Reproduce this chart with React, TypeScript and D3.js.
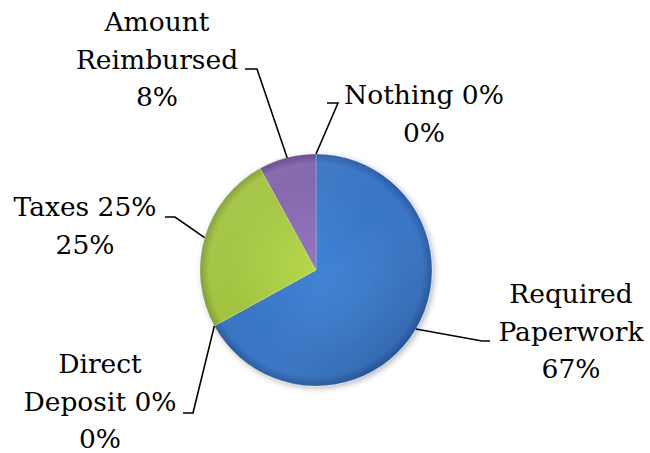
import React, { useEffect, useRef } from 'react';
import * as d3 from 'd3';

// Slice data, clockwise from 12 o'clock
const categories = ['Required Paperwork', 'Direct Deposit 0%', 'Taxes 25%', 'Amount Reimbursed', 'Nothing 0%'];
const values = [67, 0, 25, 8, 0];
const percentLabels = ['67%', '0%', '25%', '8%', '0%'];
// how each label wraps in the picture
const labelLines = [
  ['Required', 'Paperwork', '67%'],
  ['Direct', 'Deposit 0%', '0%'],
  ['Taxes 25%', '25%'],
  ['Amount', 'Reimbursed', '8%'],
  ['Nothing 0%', '0%'],
];

const colors = [
  { light: '#3f84d4', base: '#3874c4', dark: '#2a5aa2' },
  { light: '#e86a66', base: '#c0504d', dark: '#8c3331' },
  { light: '#b6d84c', base: '#a0c23c', dark: '#7d9c2a' },
  { light: '#9576c2', base: '#7f61aa', dark: '#5e4286' },
  { light: '#5cc3dc', base: '#4bacc6', dark: '#2f7d92' },
];

// label placement: elbow of the leader, end of the leader, text centre and first baseline
const labelLayout = [
  { elbow: [482, 341], end: [490, 341], tx: 571, ty: 303 },
  { elbow: [193, 413], end: [183, 413], tx: 100, ty: 373 },
  { elbow: [175, 217], end: [165, 217], tx: 85, ty: 216 },
  { elbow: [257, 69], end: [245, 69], tx: 157, ty: 31 },
  { elbow: [338, 103], end: [327, 103], tx: 424, ty: 104 },
];

const App: React.FC = () => {
  const ref = useRef<SVGSVGElement | null>(null);

  useEffect(() => {
    if (!ref.current) return;
    const svg = d3.select(ref.current);
    svg.selectAll('*').remove();

    const width = 650;
    const height = 453;
    const cx = 316;
    const cy = 270;
    const radius = 116;
    const lineH = 37.5;

    svg.attr('width', width).attr('height', height);

    const defs = svg.append('defs');
    const shadow = defs.append('filter').attr('id', 'pieShadow')
      .attr('x', '-20%').attr('y', '-20%').attr('width', '140%').attr('height', '140%');
    shadow.append('feGaussianBlur').attr('in', 'SourceAlpha').attr('stdDeviation', 3);
    shadow.append('feOffset').attr('dx', 2).attr('dy', 2).attr('result', 'off');
    shadow.append('feComponentTransfer').append('feFuncA').attr('type', 'linear').attr('slope', 0.3);
    const merge = shadow.append('feMerge');
    merge.append('feMergeNode');
    merge.append('feMergeNode').attr('in', 'SourceGraphic');

    // gradients are in the pie group's own space, centred on 0,0
    colors.forEach((c, i) => {
      const g = defs.append('radialGradient').attr('id', `grad${i}`)
        .attr('gradientUnits', 'userSpaceOnUse')
        .attr('cx', 0).attr('cy', 0).attr('r', radius);
      g.append('stop').attr('offset', '0%').attr('stop-color', c.light);
      g.append('stop').attr('offset', '75%').attr('stop-color', c.base);
      g.append('stop').attr('offset', '92%').attr('stop-color', c.base);
      g.append('stop').attr('offset', '100%').attr('stop-color', c.dark);
    });

    // soft light from the top left, shade to the bottom right
    const light = defs.append('linearGradient').attr('id', 'lightOverlay')
      .attr('gradientUnits', 'userSpaceOnUse')
      .attr('x1', -radius * 0.7).attr('y1', -radius * 0.7)
      .attr('x2', radius * 0.7).attr('y2', radius * 0.7);
    light.append('stop').attr('offset', '0%').attr('stop-color', '#fff').attr('stop-opacity', 0.08);
    light.append('stop').attr('offset', '50%').attr('stop-color', '#fff').attr('stop-opacity', 0);
    light.append('stop').attr('offset', '100%').attr('stop-color', '#000').attr('stop-opacity', 0.1);

    const pie = d3.pie<number>().sort(null).value(d => d);
    const arcs = pie(values);
    const arc = d3.arc<d3.PieArcDatum<number>>().innerRadius(0).outerRadius(radius);
    const drawn = arcs.filter(a => a.value > 0);

    const g = svg.append('g').attr('transform', `translate(${cx},${cy})`);
    const slices = g.append('g').attr('filter', 'url(#pieShadow)');
    slices.selectAll('path.slice')
      .data(drawn)
      .enter()
      .append('path')
      .attr('class', 'slice')
      .attr('d', arc)
      .attr('fill', d => `url(#grad${d.index})`)
      .attr('stroke', 'rgba(255,255,255,0.3)')
      .attr('stroke-width', 0.8);
    slices.selectAll('path.shade')
      .data(drawn)
      .enter()
      .append('path')
      .attr('class', 'shade')
      .attr('d', arc)
      .attr('fill', 'url(#lightOverlay)');

    // leader lines
    arcs.forEach((a, i) => {
      const mid = (a.startAngle + a.endAngle) / 2;
      const px = cx + radius * Math.sin(mid);
      const py = cy - radius * Math.cos(mid);
      const L = labelLayout[i];
      svg.append('polyline')
        .attr('points', `${px},${py} ${L.elbow[0]},${L.elbow[1]} ${L.end[0]},${L.end[1]}`)
        .attr('fill', 'none')
        .attr('stroke', '#000')
        .attr('stroke-width', 1.6);
    });

    // labels
    labelLines.forEach((lines, i) => {
      const L = labelLayout[i];
      const t = svg.append('text')
        .attr('text-anchor', 'middle')
        .style('font-family', '"DejaVu Serif", serif')
        .style('font-size', '26.5px')
        .attr('fill', '#000')
        .attr('aria-label', `${categories[i]} ${percentLabels[i]}`);
      lines.forEach((ln, j) => {
        t.append('tspan').attr('x', L.tx).attr('y', L.ty + j * lineH).text(ln);
      });
    });
  }, []);

  return (
    <svg ref={ref} style={{ position: 'absolute', left: 0, top: 0, background: '#fff' }}></svg>
  );
};

export default App;
